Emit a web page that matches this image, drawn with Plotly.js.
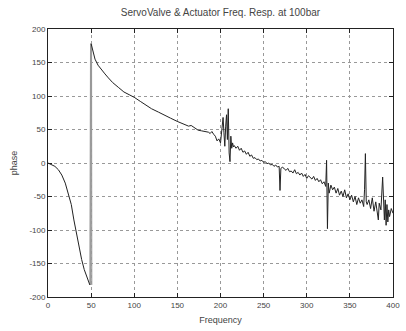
<!DOCTYPE html>
<html>
<head>
<meta charset="utf-8">
<script src="https://cdn.plot.ly/plotly-3.0.1.min.js"></script>
<style>html,body{margin:0;padding:0;background:#fff;}#chart{width:406px;height:331px;}</style>
</head>
<body>
<div id="chart"></div>
<script>
// Frequency (Hz) and phase (deg)
const freqLow = [0,4,8,12,16,20,24,27,30,33,36,39,42,45,47,48.5];
const phaseLow = [0,-2,-5,-10,-18,-30,-47,-62,-85,-106,-127,-144,-159,-170,-176,-182];
// phase wrapping band around 50 Hz
const freqWrap = [48.5,48.7,49.0,49.3,49.6,49.9,50.2,50.5,50.8];
const phaseWrap = [-182,178,-182,178,-182,178,-182,178,-182];
const freqHigh = [50,52,54.5,58,62,66,70,75,81.5,88,94,100,107,114,120,128,135,142,150,156,160,163,166,170,174,178,182,186,188,190,192,194,196,198,
  200,201,202,203,204,205,206,207,208,209,210,211,212,213,214,215,216,218,220,222,224,226,228,230,232,234,236,238,240,242,244,246,248,
  250,252,254,256,258,260,262,264,266,268,269,270,272,274,276,278,280,282,284,286,288,290,292,294,296,298,
  300,302,304,306,308,310,312,314,316,318,320,322,323,324,325,326,328,330,332,334,336,338,340,342,344,346,348,
  350,352,354,356,358,360,362,364,366,367,368,369,370,372,374,376,378,380,382,383,384,386,388,389,390,391,392,393,394,395,396,398,400];
const phaseHigh = [178,166,155,146,139,133,127,120,113,106,102,98,92,86,81,76,71,67,62,59,57,55,56,52,49,48,47,46,44,47,43,40,33,36,
  30,42,60,68,45,25,55,72,35,81,15,2,40,22,30,24,26,22,25,19,22,16,18,13,16,10,12,7,8,5,6,3,4,
  1,2,-1,0,-3,-2,-5,-3,-6,-5,-41,-8,-6,-9,-11,-8,-13,-12,-15,-10,-16,-14,-18,-15,-20,-17,
  -23,-19,-22,-24,-20,-26,-23,-28,-25,-31,-28,-35,4,-98,-30,-45,-33,-40,-36,-45,-38,-48,-42,-50,-40,-52,-46,
  -55,-48,-58,-50,-62,-52,-60,-55,-65,-40,14,-58,-62,-55,-68,-52,-72,-58,-78,-85,-60,-70,-21,-65,-85,-55,-93,-62,-88,-70,-80,-68,-75];

const titleText = 'ServoValve & Actuator Freq. Resp. at 100bar';
const xTitle = 'Frequency';
const yTitle = 'phase';
const xTicks = [0,50,100,150,200,250,300,350,400];
const yTicks = [-200,-150,-100,-50,0,50,100,150,200];

const fam = 'Liberation Sans, Arial, sans-serif';
const axisCommon = {
  showline: true, linecolor: '#222', linewidth: 1, mirror: 'ticks',
  ticks: 'inside', ticklen: 4, tickcolor: '#222',
  showgrid: true, gridcolor: '#999', griddash: '3px,3px', gridwidth: 1,
  zeroline: false, tickfont: {family: fam, size: 8, color: '#444'}
};

Plotly.newPlot('chart', [
  {x: freqWrap, y: phaseWrap, type: 'scatter', mode: 'lines', line: {color: '#999', width: 1}, hoverinfo: 'skip'},
  {x: freqLow, y: phaseLow, type: 'scatter', mode: 'lines', line: {color: '#222', width: 1}, hoverinfo: 'skip'},
  {x: freqHigh, y: phaseHigh, type: 'scatter', mode: 'lines', line: {color: '#222', width: 1}, hoverinfo: 'skip'}
], {
  width: 406, height: 331,
  margin: {l: 48, r: 13, t: 29, b: 34},
  paper_bgcolor: '#fff', plot_bgcolor: '#fff',
  font: {family: fam, size: 9, color: '#444'}, showlegend: false,
  title: {text: titleText, font: {family: fam, size: 10, color: '#444'}, x: 0.543, xanchor: 'center', y: 0.962, yanchor: 'middle'},
  xaxis: Object.assign({}, axisCommon, {range: [0, 400], tickvals: xTicks, ticktext: xTicks.map(String),
    title: {text: xTitle, font: {family: fam, size: 9, color: '#444'}, standoff: 8}}),
  yaxis: Object.assign({}, axisCommon, {range: [-200, 200], tickvals: yTicks, ticktext: yTicks.map(String),
    title: {text: yTitle, font: {family: fam, size: 9, color: '#444'}, standoff: 10}})
}, {staticPlot: true, displayModeBar: false});
</script>
</body>
</html>
